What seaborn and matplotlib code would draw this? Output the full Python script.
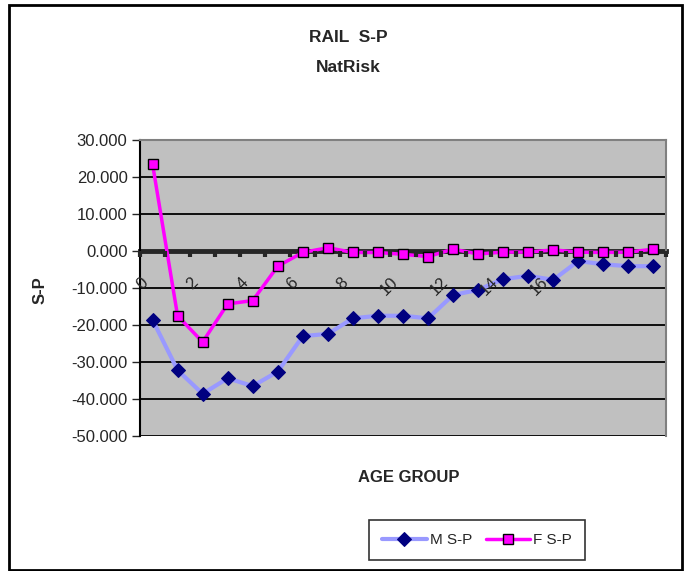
import numpy as np
import pandas as pd
import matplotlib
matplotlib.use("Agg")
import matplotlib.pyplot as plt
import seaborn as sns
from matplotlib.patches import Rectangle
from matplotlib.ticker import FormatStrFormatter

# ----------------------- Data -----------------------
age_group = list(range(21))
m_sp = [-18.6, -32.2, -38.6, -34.4, -36.5, -32.6, -23.0, -22.4, -18.2, -17.5,
        -17.5, -18.2, -11.9, -10.5, -7.6, -6.7, -7.8, -2.7, -3.6, -4.1, -4.1]
f_sp = [23.5, -17.5, -24.6, -14.3, -13.4, -4.1, -0.4, 0.9, -0.4, -0.4,
        -0.9, -1.5, 0.5, -0.8, -0.3, -0.3, 0.3, -0.3, -0.4, -0.3, 0.5]
x_tick_labels = ["0", "2", "4", "6", "8", "10", "12", "14", "16"]
y_ticks = [-50, -40, -30, -20, -10, 0, 10, 20, 30]

df = pd.DataFrame({"age": age_group, "M S-P": m_sp, "F S-P": f_sp})

# ----------------------- Plot -----------------------
sns.set_style("white")
plt.rcParams["font.family"] = ["Liberation Sans", "DejaVu Sans"]

fig = plt.figure(figsize=(6.89, 5.71), dpi=100)
ax = fig.add_axes([140 / 689, 135 / 571, 526 / 689, 296 / 571])
ax.set_facecolor("#C0C0C0")

# horizontal gridlines
for y in y_ticks:
    ax.axhline(y, color="black", lw=1.3, zorder=1)

sns.lineplot(data=df, x="age", y="M S-P", ax=ax, color="#9999FF", lw=3,
             marker="D", markersize=7, markerfacecolor="#000080",
             markeredgecolor="#000080", label="M S-P", zorder=3)
sns.lineplot(data=df, x="age", y="F S-P", ax=ax, color="#FF00FF", lw=2.5,
             marker="s", markersize=7, markerfacecolor="#FF00FF",
             markeredgecolor="black", markeredgewidth=1, label="F S-P", zorder=4)

ax.set_xlim(-0.5, 20.5)
ax.set_ylim(-50, 30)
ax.set_yticks(y_ticks)
ax.yaxis.set_major_formatter(FormatStrFormatter("%.3f"))
ax.tick_params(axis="y", labelsize=12, length=6, width=1, direction="out",
               left=True, pad=3)

# category axis sits on zero line, labels drawn over the series
ax.spines["bottom"].set_position(("data", 0))
ax.spines["bottom"].set_linewidth(3.5)
ax.spines["bottom"].set_zorder(2)
ax.set_xticks(np.arange(-0.5, 21.0, 1.0), minor=True)
ax.set_xticks([k - 0.5 for k in range(0, 17, 2)])
ax.set_xticklabels(x_tick_labels, rotation=45, ha="right", va="top",
                   rotation_mode="anchor")
ax.tick_params(axis="x", which="both", length=4, width=3, bottom=True,
               direction="out", labelsize=12, pad=13)
ax.tick_params(axis="x", which="minor", labelbottom=False)
ax.xaxis.set_zorder(5)

ax.spines["left"].set_color("black")
ax.spines["left"].set_linewidth(1.5)
for s in ["top", "right"]:
    ax.spines[s].set_color("#808080")
    ax.spines[s].set_linewidth(1.5)

ax.set_xlabel("")
ax.set_ylabel("")

fig.text(40 / 689, 1 - 290 / 571, "S-P", rotation=90, ha="center", va="center",
         fontsize=12, fontweight="bold")
fig.text(409 / 689, 1 - 477 / 571, "AGE GROUP", ha="center", va="center",
         fontsize=12, fontweight="bold")
fig.text(348 / 689, 1 - 38 / 571, "RAIL  S-P", ha="center", va="center",
         fontsize=12.5, fontweight="bold")
fig.text(348 / 689, 1 - 68 / 571, "NatRisk", ha="center", va="center",
         fontsize=12.5, fontweight="bold")

leg = ax.legend(loc="center", bbox_to_anchor=(477 / 689, 1 - 540 / 571),
                bbox_transform=fig.transFigure, ncol=2, frameon=True,
                fancybox=False, edgecolor="black", fontsize=11,
                handlelength=2.9, columnspacing=0.9, handletextpad=0.2,
                borderpad=0.85)
leg.get_frame().set_linewidth(1.2)

# outer chart border
fig.patches.append(Rectangle((9 / 689, 1 - 570 / 571), 673 / 689, 565 / 571,
                             transform=fig.transFigure, fill=False,
                             edgecolor="black", lw=2))

fig.savefig("out.png", dpi=100)
